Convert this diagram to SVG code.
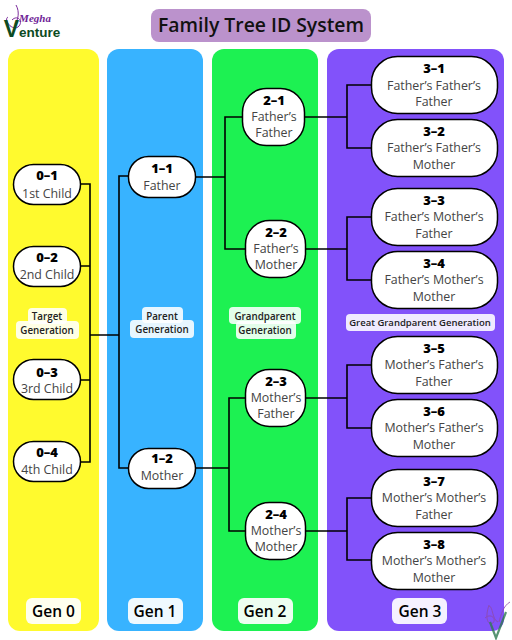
<svg xmlns="http://www.w3.org/2000/svg" width="512" height="640" viewBox="0 0 512 640">
<style>
text{font-family:"Open Sans","Noto Sans","Liberation Sans",sans-serif;text-anchor:middle}
.n rect{fill:#fff;stroke:#000;stroke-width:1.5}
.id{font-size:13px;font-weight:800;fill:#000}
.t{font-size:12.4px;fill:#444}
.g{font-size:15.500px;font-weight:600;fill:#000}
.l{font-size:9.800px;font-weight:600;fill:#222}
.b{fill:#fff;fill-opacity:.88}
.c path{fill:none;stroke:#000;stroke-width:1.6}
</style>
<rect width="512" height="640" fill="#fff"/>
<g id="columns">
<rect x="8" y="49" width="91" height="582" rx="12" fill="#FFFA2E"/>
<rect x="107" y="49" width="96" height="582" rx="12" fill="#38B3FF"/>
<rect x="212" y="49" width="106" height="582" rx="12" fill="#1DF152"/>
<rect x="327" y="49" width="177" height="582" rx="12" fill="#8252FA"/>
</g>
<g id="title">
<rect x="151" y="9" width="220" height="33" rx="8" fill="#BB92CC"/>
<text x="261" y="32" font-size="19.400" font-weight="600" fill="#111">Family Tree ID System</text>
</g>
<g id="logo">
<path d="M12 20C18 14 24 22 18 27C12 31 3 20 8 17M16 5C20 12 18 20 15 24" fill="none" stroke="#7B2A9C" stroke-width="1"/>
<text x="35" y="22" font-size="11" font-style="italic" font-weight="700" fill="#6F1E96" style="font-family:'Liberation Serif',serif">Megha</text>
<text x="32" y="37" font-size="13.500" font-weight="600" fill="#0C4B22" style="font-family:'Liberation Sans',sans-serif"><tspan font-size="23">V</tspan>enture</text>
</g>
<g id="connectors" class="c">
<path d="M81 184H90V462H81M81 266H90M81 380H90M90 335H119M128 176H119V468H128"/>
<path d="M196 177H225M242 117H225V249H245"/>
<path d="M196 468H229M245 398H229V531H245"/>
<path d="M305 117H347M371 85H347V148H371"/>
<path d="M305 249H347M371 217H347V280H371"/>
<path d="M305 398H347M371 365H347V428H371"/>
<path d="M305 531H347M371 498H347V560H371"/>
</g>
<g id="n0-1" class="n"><rect x="13.500" y="164.500" width="67" height="40" rx="20"/><text class="id" x="47" y="180">0–1</text><text class="t" x="47" y="198">1st Child</text></g>
<g id="n0-2" class="n"><rect x="13.500" y="246.500" width="67" height="40" rx="20"/><text class="id" x="47" y="262">0–2</text><text class="t" x="47" y="279">2nd Child</text></g>
<g id="n0-3" class="n"><rect x="13.500" y="359.500" width="67" height="40" rx="20"/><text class="id" x="47" y="377">0–3</text><text class="t" x="47" y="393">3rd Child</text></g>
<g id="n0-4" class="n"><rect x="13.500" y="441.500" width="67" height="40" rx="20"/><text class="id" x="47" y="457">0–4</text><text class="t" x="47" y="474">4th Child</text></g>
<g id="n1-1" class="n"><rect x="128.500" y="156.500" width="67" height="41" rx="20"/><text class="id" x="162" y="173">1–1</text><text class="t" x="162" y="190">Father</text></g>
<g id="n1-2" class="n"><rect x="128.500" y="448.500" width="67" height="40" rx="20"/><text class="id" x="162" y="463">1–2</text><text class="t" x="162" y="480">Mother</text></g>
<g id="n2-1" class="n"><rect x="242.500" y="88.500" width="62" height="57" rx="24"/><text class="id" x="274" y="105">2–1</text><text class="t" x="274" y="121">Father’s</text><text class="t" x="274" y="137">Father</text></g>
<g id="n2-2" class="n"><rect x="245.500" y="220.500" width="60" height="57" rx="24"/><text class="id" x="276" y="237">2–2</text><text class="t" x="276" y="253">Father’s</text><text class="t" x="276" y="269">Mother</text></g>
<g id="n2-3" class="n"><rect x="245.500" y="369.500" width="60" height="57" rx="24"/><text class="id" x="276" y="386">2–3</text><text class="t" x="276" y="402">Mother’s</text><text class="t" x="276" y="418">Father</text></g>
<g id="n2-4" class="n"><rect x="245.500" y="502.500" width="60" height="57" rx="24"/><text class="id" x="276" y="519">2–4</text><text class="t" x="276" y="535">Mother’s</text><text class="t" x="276" y="551">Mother</text></g>
<g id="n3-1" class="n"><rect x="371.500" y="56.500" width="126" height="57" rx="26"/><text class="id" x="434" y="73">3–1</text><text class="t" x="434" y="90">Father’s Father’s</text><text class="t" x="434" y="106">Father</text></g>
<g id="n3-2" class="n"><rect x="371.500" y="119.500" width="126" height="57" rx="26"/><text class="id" x="434" y="136">3–2</text><text class="t" x="434" y="152">Father’s Father’s</text><text class="t" x="434" y="169">Mother</text></g>
<g id="n3-3" class="n"><rect x="371.500" y="188.500" width="126" height="57" rx="26"/><text class="id" x="434" y="205">3–3</text><text class="t" x="434" y="221">Father’s Mother’s</text><text class="t" x="434" y="238">Father</text></g>
<g id="n3-4" class="n"><rect x="371.500" y="251.500" width="126" height="57" rx="26"/><text class="id" x="434" y="268">3–4</text><text class="t" x="434" y="284">Father’s Mother’s</text><text class="t" x="434" y="301">Mother</text></g>
<g id="n3-5" class="n"><rect x="371.500" y="336.500" width="126" height="57" rx="26"/><text class="id" x="434" y="353">3–5</text><text class="t" x="434" y="369">Mother’s Father’s</text><text class="t" x="434" y="386">Father</text></g>
<g id="n3-6" class="n"><rect x="371.500" y="399.500" width="126" height="57" rx="26"/><text class="id" x="434" y="416">3–6</text><text class="t" x="434" y="432">Mother’s Father’s</text><text class="t" x="434" y="449">Mother</text></g>
<g id="n3-7" class="n"><rect x="371.500" y="469.500" width="126" height="57" rx="26"/><text class="id" x="434" y="486">3–7</text><text class="t" x="434" y="502">Mother’s Mother’s</text><text class="t" x="434" y="519">Father</text></g>
<g id="n3-8" class="n"><rect x="371.500" y="532.500" width="126" height="57" rx="26"/><text class="id" x="434" y="549">3–8</text><text class="t" x="434" y="565">Mother’s Mother’s</text><text class="t" x="434" y="582">Mother</text></g>
<g id="labels">
<rect class="b" x="28" y="308" width="39" height="16" rx="4"/><rect class="b" x="16" y="321" width="63" height="18" rx="4"/>
<text class="l" x="47" y="320">Target</text><text class="l" x="47" y="334">Generation</text>
<rect class="b" x="142" y="307" width="41" height="16" rx="4"/><rect class="b" x="130" y="320" width="64" height="18" rx="4"/>
<text class="l" x="162" y="320">Parent</text><text class="l" x="162" y="333">Generation</text>
<rect class="b" x="229" y="307" width="72" height="17" rx="4"/><rect class="b" x="236" y="321" width="60" height="18" rx="4"/>
<text class="l" x="265" y="320">Grandparent</text><text class="l" x="265" y="334">Generation</text>
<rect class="b" x="346" y="314" width="149" height="17" rx="4"/>
<text class="l" x="420" y="326" style="font-size:9.500px">Great Grandparent Generation</text>
</g>
<g id="gen-labels">
<rect x="26" y="598" width="55" height="26" rx="6" fill="#fff" fill-opacity=".92"/><text class="g" x="53.500" y="617">Gen 0</text>
<rect x="128" y="598" width="55" height="26" rx="6" fill="#fff" fill-opacity=".92"/><text class="g" x="155" y="617">Gen 1</text>
<rect x="238" y="598" width="55" height="26" rx="6" fill="#fff" fill-opacity=".92"/><text class="g" x="265" y="617">Gen 2</text>
<rect x="392" y="598" width="55" height="26" rx="6" fill="#fff" fill-opacity=".92"/><text class="g" x="420" y="617">Gen 3</text>
</g>
<g id="watermark" fill="none" opacity=".8">
<path d="M485 618C490 613 497 618 493 623C489 626 484 620 489 605M510 602C503 606 501 615 499 622M489 606C493 606 492 620 498 622" stroke="#8E4BA8" stroke-width="1"/>
<path d="M490 622L496 638L506 612" stroke="#2F7A50" stroke-width="2.200"/>
</g>
</svg>
